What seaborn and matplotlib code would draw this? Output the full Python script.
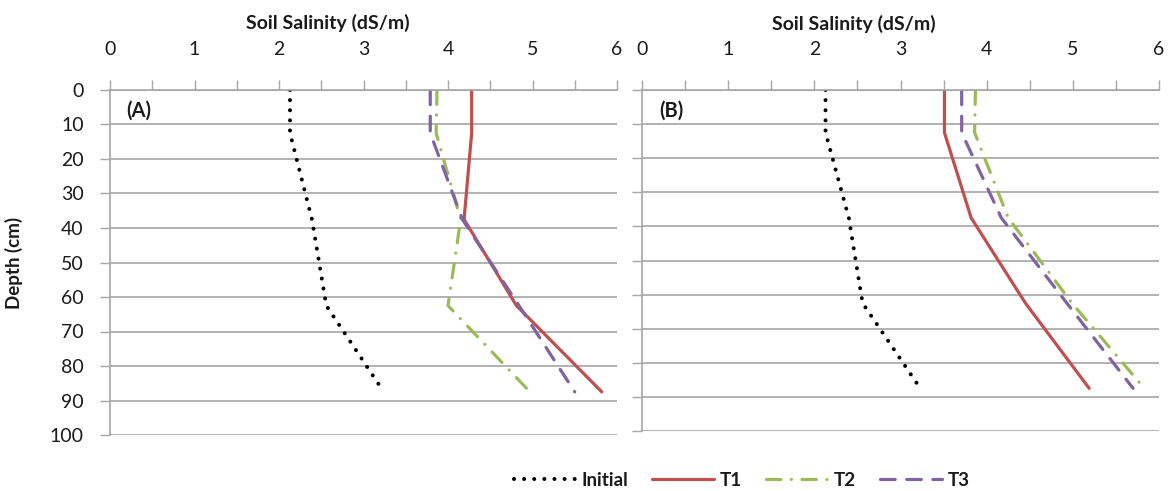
import matplotlib
matplotlib.use("Agg")
import matplotlib.pyplot as plt
from matplotlib.ticker import MultipleLocator
from matplotlib.colors import to_hex
import seaborn as sns
import pandas as pd

# ---------------- data ----------------
depth = [0, 12.5, 37.5, 62.5, 87.5]
series_names = ["Initial", "T1", "T2", "T3"]

a_initial = [2.13, 2.13, 2.39, 2.56, 3.24]
a_t1 = [4.28, 4.28, 4.19, 4.81, 5.82]
a_t2 = [3.87, 3.86, 4.15, 4.00, 4.97]
a_t3 = [3.79, 3.79, 4.17, 4.84, 5.50]

b_initial = [2.13, 2.13, 2.40, 2.56, 3.23]
b_t1 = [3.51, 3.51, 3.82, 4.45, 5.19]
b_t2 = [3.87, 3.86, 4.25, 4.99, 5.83]
b_t3 = [3.71, 3.71, 4.17, 4.93, 5.70]

x_ticks = [0, 1, 2, 3, 4, 5, 6]
y_ticks = [0, 10, 20, 30, 40, 50, 60, 70, 80, 90, 100]
panel_labels = ["(A)", "(B)"]
x_title = "Soil Salinity (dS/m)"
y_title = "Depth (cm)"


def make_df(vals):
    rows = []
    for name, v in zip(series_names, vals):
        for d, s in zip(depth, v):
            rows.append({"series": name, "depth": d, "salinity": s})
    return pd.DataFrame(rows)


df_a = make_df([a_initial, a_t1, a_t2, a_t3])
df_b = make_df([b_initial, b_t1, b_t2, b_t3])

# ---------------- style ----------------
sns.set_theme(style="white")
plt.rcParams["font.family"] = ["Lato", "DejaVu Sans"]

palette = {"Initial": "#000000", "T1": "#C0504D", "T2": "#9BBB59", "T3": "#8064A2"}
dashes = {"Initial": (0.01, 2.5), "T1": "", "T2": (4.5, 3.3, 0.01, 3.3), "T3": (4.6, 3.6)}
grid_col = "#A6A6A6"
text_col = "#1a1a1a"
LW = 2.3
LW_DOT = 2.9


def style_line(ln):
    ln.set_dash_capstyle("round")
    ln.set_solid_capstyle("round")
    if to_hex(ln.get_color()) == "#000000":
        ln.set_linewidth(LW_DOT)
    else:
        ln.set_linewidth(LW)


fig = plt.figure(figsize=(11.68, 4.91), dpi=100)
ax_a = fig.add_axes([110 / 1168, 56 / 491, 507 / 1168, 345 / 491])
ax_b = fig.add_axes([642 / 1168, 60 / 491, 517 / 1168, 341 / 491])

for ax, df, lab, show_ylabels, title_x in [
    (ax_a, df_a, panel_labels[0], True, 0.43),
    (ax_b, df_b, panel_labels[1], False, 0.41),
]:
    sns.lineplot(
        data=df, x="salinity", y="depth", hue="series", style="series",
        hue_order=series_names, style_order=series_names,
        palette=palette, dashes=dashes, sort=False, estimator=None,
        linewidth=LW, legend=True, ax=ax,
    )
    for ln in ax.get_lines():
        style_line(ln)
    ax.set_xlim(0, 6)
    ax.set_ylim(100, 0)
    ax.set_xticks(x_ticks)
    ax.xaxis.set_minor_locator(MultipleLocator(0.5))
    ax.set_yticks(y_ticks)
    ax.xaxis.tick_top()
    ax.xaxis.set_label_position("top")
    ax.tick_params(axis="x", which="both", direction="out", length=7, width=1,
                   color=grid_col, pad=16, labelsize=14, labelcolor=text_col,
                   top=True, bottom=False)
    ax.tick_params(axis="y", which="major", direction="out", length=7, width=1,
                   color=grid_col, pad=12, labelsize=14, labelcolor=text_col,
                   left=True, labelleft=show_ylabels)
    ax.grid(axis="y", color=grid_col, linewidth=1.2)
    ax.grid(axis="x", visible=False)
    for side in ["right", "bottom"]:
        ax.spines[side].set_visible(False)
    for side in ["top", "left"]:
        ax.spines[side].set_color(grid_col)
        ax.spines[side].set_linewidth(1.2)
    ax.set_xlabel(x_title, fontsize=14, fontweight="bold", color=text_col)
    ax.xaxis.set_label_coords(title_x, 1.195)
    ax.xaxis.label.set_verticalalignment("center")
    ax.set_ylabel("")
    ax.text(0.056, 0.94, lab, transform=ax.transAxes, fontsize=14.5,
            fontweight="bold", color=text_col, ha="center", va="center")

ax_a.set_ylabel(y_title, fontsize=13.5, fontweight="bold", color=text_col)
ax_a.yaxis.set_label_coords(-0.172, 0.5)

handles, labels = ax_a.get_legend_handles_labels()
ax_a.get_legend().remove()
ax_b.get_legend().remove()
for h in handles:
    style_line(h)

leg = fig.legend(handles, labels, loc="center", bbox_to_anchor=(0.635, 0.022),
                 ncol=4, frameon=False, handlelength=3.3, handletextpad=0.3,
                 columnspacing=1.3,
                 prop={"family": ["Lato", "DejaVu Sans"], "weight": "bold", "size": 13.5})
for t in leg.get_texts():
    t.set_color(text_col)

fig.savefig("out.png", dpi=100, facecolor="white")
